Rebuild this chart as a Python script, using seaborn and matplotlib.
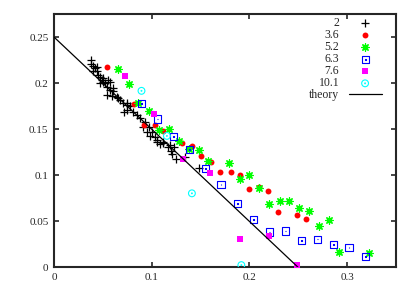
"""
Scatter of several series against the linear theory line, gnuplot look
"""
import numpy as np
import pandas as pd
import matplotlib
matplotlib.use("Agg")
import matplotlib.pyplot as plt
from matplotlib.path import Path
import seaborn as sns

# series "2" (black plus)
x_2 = [0.0376, 0.0379, 0.0397, 0.0438, 0.0421, 0.0403, 0.0438, 0.0454, 0.0472, 0.0506,
       0.0489, 0.0557, 0.0506, 0.0523, 0.0574, 0.0472, 0.0541, 0.0608, 0.0574, 0.0608,
       0.0541, 0.0592, 0.0643, 0.0659, 0.0677, 0.0711, 0.0746, 0.0746, 0.0779, 0.0746,
       0.0718, 0.0810, 0.0848, 0.0882, 0.0916, 0.0977, 0.0951, 0.1002, 0.0933, 0.0985,
       0.1036, 0.1053, 0.1053, 0.1087, 0.1121, 0.1121, 0.1172, 0.1190, 0.1224, 0.1200,
       0.1210, 0.1248, 0.1344, 0.1487]
y_2 = [0.2253, 0.2210, 0.2188, 0.2180, 0.2163, 0.2126, 0.2126, 0.2090, 0.2065, 0.2054,
       0.2036, 0.2036, 0.2017, 0.2000, 0.2017, 0.2000, 0.1963, 0.1946, 0.1927, 0.1909,
       0.1873, 0.1862, 0.1854, 0.1843, 0.1818, 0.1789, 0.1783, 0.1764, 0.1753, 0.1710,
       0.1691, 0.1688, 0.1655, 0.1620, 0.1528, 0.1528, 0.1474, 0.1474, 0.1580, 0.1427,
       0.1420, 0.1384, 0.1365, 0.1340, 0.1365, 0.1348, 0.1311, 0.1329, 0.1311, 0.1264,
       0.1232, 0.1177, 0.1196, 0.1076]

# series "3.6" (red circles)
x_36 = [0.054, 0.082, 0.092, 0.103, 0.112, 0.131, 0.141, 0.151, 0.161, 0.170,
        0.181, 0.190, 0.200, 0.210, 0.219, 0.229, 0.249, 0.258]
y_36 = [0.218, 0.177, 0.155, 0.154, 0.148, 0.135, 0.132, 0.121, 0.114, 0.104,
        0.103, 0.100, 0.085, 0.087, 0.083, 0.060, 0.057, 0.053]

# series "5.2" (green asterisks)
x_52 = [0.066, 0.077, 0.0865, 0.097, 0.108, 0.118, 0.128, 0.1385, 0.148, 0.158,
        0.1795, 0.190, 0.200, 0.210, 0.2205, 0.231, 0.2407, 0.251, 0.261, 0.271,
        0.2813, 0.292, 0.3224]
y_52 = [0.2155, 0.199, 0.1786, 0.170, 0.149, 0.150, 0.137, 0.128, 0.1275, 0.116,
        0.1137, 0.0957, 0.1007, 0.0859, 0.0688, 0.0724, 0.0724, 0.0648, 0.0612, 0.0449,
        0.0514, 0.017, 0.0152]

# series "6.3" (blue open squares)
x_63 = [0.090, 0.1063, 0.122, 0.1388, 0.155, 0.171, 0.1877, 0.2041, 0.2205, 0.237,
        0.2533, 0.2694, 0.2858, 0.302, 0.3187]
y_63 = [0.178, 0.161, 0.142, 0.128, 0.1076, 0.090, 0.0696, 0.0522, 0.0384, 0.0395,
        0.0289, 0.0308, 0.025, 0.0217, 0.0123]

# series "7.6" (magenta filled squares)
x_76 = [0.0731, 0.1026, 0.1316, 0.1600, 0.190, 0.2198, 0.2485]
y_76 = [0.2076, 0.1663, 0.1174, 0.1028, 0.0304, 0.034, 0.0025]

# series "10.1" (cyan open circles)
x_101 = [0.0896, 0.1156, 0.1412, 0.1918]
y_101 = [0.1916, 0.1427, 0.0804, 0.0025]

# theory line
theory_x = [0.0, 0.25]
theory_y = [0.25, 0.0]

x_ticks = [0, 0.1, 0.2, 0.3]
y_ticks = [0, 0.05, 0.1, 0.15, 0.2, 0.25]
y_tick_labels = ["0", "0.05", "0.1", "0.15", "0.2", "0.25"]

sns.set_style("ticks")
plt.rcParams['font.family'] = ['Liberation Serif', 'DejaVu Serif']

# open markers with a dot in the middle, like gnuplot
box = Path([(-1, -1), (1, -1), (1, 1), (-1, 1), (-1, -1),
            (-0.12, -0.12), (0.12, -0.12), (0.12, 0.12), (-0.12, 0.12), (-0.12, -0.12)],
           [Path.MOVETO, Path.LINETO, Path.LINETO, Path.LINETO, Path.CLOSEPOLY,
            Path.MOVETO, Path.LINETO, Path.LINETO, Path.LINETO, Path.CLOSEPOLY])
ring = Path.make_compound_path(Path.circle((0, 0), 1.0), Path.circle((0, 0), 0.12))

fig = plt.figure(figsize=(4.15, 2.91), dpi=100)
ax = fig.add_axes([0.130, 0.081, 0.824, 0.871])

series = [
    ("2", x_2, y_2, dict(marker="+", color="black", s=34, linewidths=0.9)),
    ("3.6", x_36, y_36, dict(marker="o", color="#ff0000", s=18, linewidths=0)),
    ("5.2", x_52, y_52, dict(marker=(8, 2, 0), color="#00ff00", s=28, linewidths=0.9)),
    ("6.3", x_63, y_63, dict(marker=box, facecolor="none", edgecolor="#0000ff", s=26, linewidths=0.8)),
    ("7.6", x_76, y_76, dict(marker="s", color="#ff00ff", s=18, linewidths=0)),
    ("10.1", x_101, y_101, dict(marker=ring, facecolor="none", edgecolor="#00ffff", s=24, linewidths=0.8)),
]

for label, xs, ys, style in series:
    df = pd.DataFrame({"x": xs, "y": ys})
    sns.scatterplot(data=df, x="x", y="y", ax=ax, label=label, zorder=3, **style)

theory = pd.DataFrame({"x": theory_x, "y": theory_y})
sns.lineplot(data=theory, x="x", y="y", ax=ax, color="black", linewidth=0.9,
             label="theory", zorder=4)

ax.set_xlim(0, 0.35)
ax.set_ylim(0, 0.275)
ax.set_xticks(x_ticks)
ax.set_xticklabels(["0", "0.1", "0.2", "0.3"])
ax.set_yticks(y_ticks)
ax.set_yticklabels(y_tick_labels)
ax.set_xlabel("")
ax.set_ylabel("")
ax.tick_params(direction="in", top=True, right=True, length=3.5, width=1.2,
               labelsize=8, pad=4)
for sp in ax.spines.values():
    sp.set_linewidth(1.5)
    sp.set_visible(True)

ax.legend(loc="upper right", bbox_to_anchor=(0.972, 1.005), borderaxespad=0,
          markerfirst=False, frameon=False, fontsize=8.5,
          handlelength=2.8, handletextpad=0.8, labelspacing=0.0,
          scatterpoints=1)

plt.savefig("out.png", dpi=100)
